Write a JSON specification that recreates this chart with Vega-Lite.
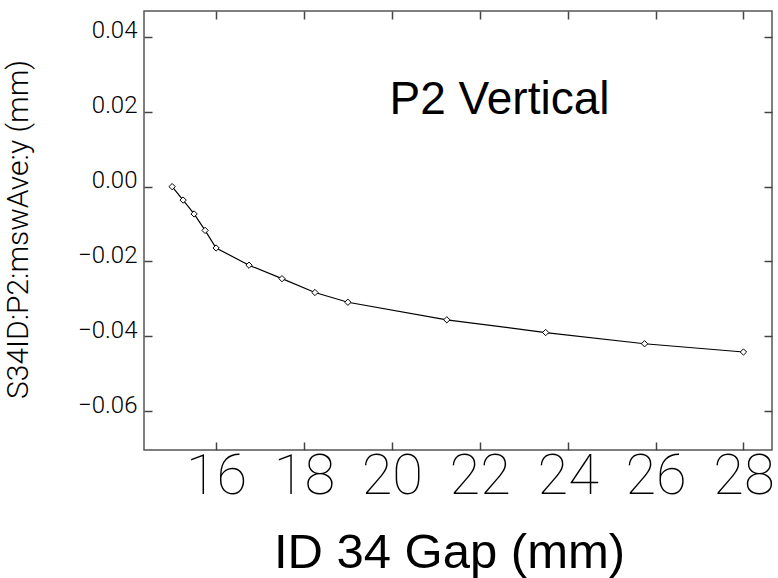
{
  "$schema": "https://vega.github.io/schema/vega-lite/v6.json",
  "width": 628,
  "height": 439,
  "autosize": {"type": "none"},
  "padding": {"left": 144, "top": 11, "right": 6, "bottom": 128},
  "background": "white",
  "config": {
    "view": {"stroke": "#555555", "strokeWidth": 1.5},
    "axis": {"grid": false, "domain": false, "tickColor": "#444444", "tickWidth": 1.5, "tickSize": -8}
  },
  "data": {
    "values": [
      {"gap": 15.0, "y": 0.0},
      {"gap": 15.25, "y": -0.0036},
      {"gap": 15.5, "y": -0.0073},
      {"gap": 15.75, "y": -0.0117},
      {"gap": 16.0, "y": -0.0164},
      {"gap": 16.75, "y": -0.0210},
      {"gap": 17.5, "y": -0.0246},
      {"gap": 18.25, "y": -0.0283},
      {"gap": 19.0, "y": -0.0309},
      {"gap": 21.25, "y": -0.0356},
      {"gap": 23.5, "y": -0.0390},
      {"gap": 25.75, "y": -0.0420},
      {"gap": 28.0, "y": -0.0442}
    ]
  },
  "layer": [
    {
      "mark": {"type": "line", "color": "black", "strokeWidth": 1.2},
      "encoding": {
        "x": {
          "field": "gap", "type": "quantitative",
          "scale": {"domain": [14.36, 28.65], "nice": false, "zero": false},
          "axis": {
            "orient": "bottom",
            "values": [16, 18, 20, 22, 24, 26, 28],
            "format": "d",
            "labelFont": "Roboto", "labelFontWeight": 100, "labelFontSize": 56, "labelColor": "black",
            "labelPadding": 7, "labelBaseline": "top",
            "title": "ID 34 Gap (mm)",
            "titleFont": "Liberation Sans", "titleFontWeight": "normal", "titleFontSize": 49, "titleColor": "black",
            "titleX": 305, "titleY": 117, "titleAlign": "center", "titleBaseline": "alphabetic"
          }
        },
        "y": {
          "field": "y", "type": "quantitative",
          "scale": {"domain": [-0.0704, 0.04695], "nice": false, "zero": false},
          "axis": {
            "orient": "left",
            "values": [-0.06, -0.04, -0.02, 0.0, 0.02, 0.04],
            "format": ".2f",
            "labelFont": "Roboto", "labelFontWeight": 300, "labelFontSize": 24, "labelColor": "black",
            "labelPadding": 15, "labelBaseline": "alphabetic", "labelOffset": 1,
            "title": "S34ID:P2:mswAve:y (mm)",
            "titleFont": "Roboto", "titleFontWeight": 300, "titleFontSize": 30, "titleColor": "black",
            "titleX": -126, "titleY": 218, "titleAngle": 270, "titleAlign": "center", "titleBaseline": "middle"
          }
        }
      }
    },
    {
      "mark": {"type": "point", "shape": "diamond", "filled": true, "fill": "white", "stroke": "black", "strokeWidth": 1, "size": 40, "opacity": 1},
      "encoding": {
        "x": {"field": "gap", "type": "quantitative", "axis": null},
        "y": {"field": "y", "type": "quantitative", "axis": null}
      }
    },
    {
      "data": {"values": [{"label": "P2 Vertical", "gap": 22.45, "y": 0.0193}]},
      "mark": {"type": "text", "font": "Liberation Sans", "fontSize": 46, "align": "center", "baseline": "alphabetic", "color": "black"},
      "encoding": {
        "x": {"field": "gap", "type": "quantitative", "axis": {"orient": "top", "values": [16, 18, 20, 22, 24, 26, 28], "labels": false, "title": null}},
        "y": {"field": "y", "type": "quantitative", "axis": {"orient": "right", "values": [-0.06, -0.04, -0.02, 0.0, 0.02, 0.04], "labels": false, "title": null}},
        "text": {"field": "label"}
      }
    }
  ],
  "resolve": {"axis": {"x": "independent", "y": "independent"}}
}
